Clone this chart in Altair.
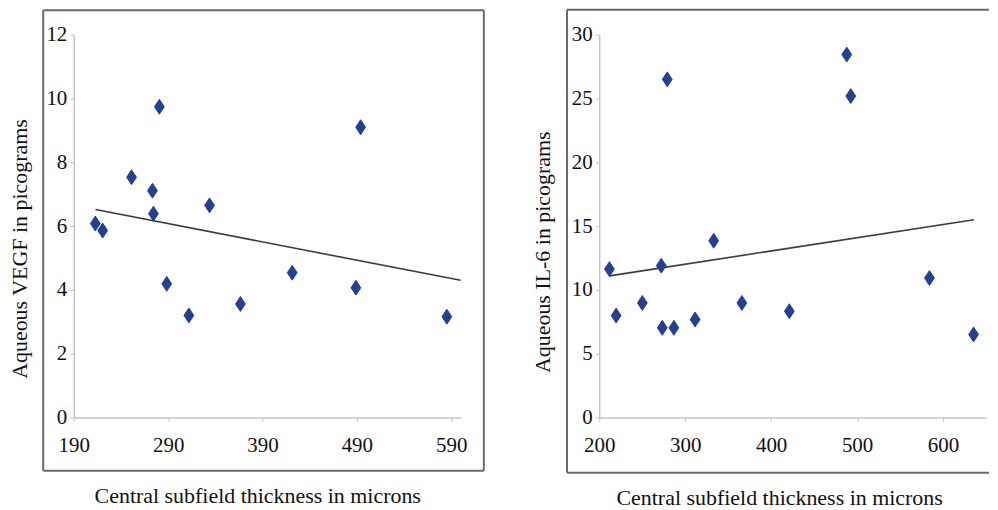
import altair as alt
import pandas as pd

# Left panel: VEGF vs central subfield thickness
vegf_cst = [212.8, 220.6, 251.2, 273.4, 274.4, 280.7, 288.5, 312.0, 333.9, 366.6, 421.5, 489.0, 494.0, 585.4]
vegf_val = [6.08, 5.86, 7.53, 7.11, 6.39, 9.74, 4.19, 3.20, 6.65, 3.56, 4.54, 4.07, 9.10, 3.16]
vegf_trend_x = [213, 600]
vegf_trend_y = [6.52, 4.30]
vegf_xticks = [190, 290, 390, 490, 590]
vegf_yticks = [0, 2, 4, 6, 8, 10, 12]

# Right panel: IL-6 vs central subfield thickness
il6_cst = [211.9, 219.7, 250.2, 272.2, 273.4, 279.2, 286.9, 311.6, 333.2, 366.0, 421.2, 488.0, 492.7, 584.2, 635.5]
il6_val = [11.63, 7.99, 8.98, 11.90, 7.03, 26.50, 7.03, 7.68, 13.85, 8.98, 8.33, 28.44, 25.19, 10.93, 6.51]
il6_trend_x = [212, 636]
il6_trend_y = [11.1, 15.5]
il6_xticks = [200, 300, 400, 500, 600]
il6_yticks = [0, 5, 10, 15, 20, 25, 30]

XTITLE = "Central subfield thickness in microns"
FONT = "Liberation Serif"
W, H = 388, 384
DIAMOND = "M0,-1L0.66,0L0,1L-0.66,0Z"
BOX = "#6b6b6b"


def panel(xs, ys, tx, ty, xdom, ydom, xticks, yticks, ytitle, xtitle_x, xtitle_y, ytitle_x, ytitle_y, box):
    pts = pd.DataFrame({"x": xs, "y": ys})
    trend = pd.DataFrame({"x": tx, "y": ty})
    common = dict(labelFont=FONT, labelFontSize=21, labelColor="#111111", labelFlush=False,
                  labelOverlap=False, titleFont=FONT, titleFontSize=22, titleFontWeight="normal",
                  titleColor="#111111", titleBaseline="middle", titleAlign="center")
    xenc = alt.X("x:Q", scale=alt.Scale(domain=xdom, nice=False, zero=False),
                 axis=alt.Axis(values=xticks, title=XTITLE, titleX=xtitle_x, titleY=xtitle_y,
                               labelPadding=13, **common))
    yenc = alt.Y("y:Q", scale=alt.Scale(domain=ydom, nice=False),
                 axis=alt.Axis(values=yticks, title=ytitle, titleX=ytitle_x, titleY=ytitle_y,
                               labelPadding=3, **common))
    points = alt.Chart(pts).mark_point(shape=DIAMOND, size=225, filled=True, color="#22409a",
                                       stroke="#17306f", strokeWidth=0.8, opacity=1).encode(x=xenc, y=yenc)
    line = alt.Chart(trend).mark_line(color="#3c3c3c", strokeWidth=1.6).encode(x="x:Q", y="y:Q")
    one = pd.DataFrame({"k": [0]})
    rules = []
    for (x1, x2, y1, y2) in box:
        rules.append(alt.Chart(one).mark_rule(color=BOX, strokeWidth=2).encode(
            x=alt.value(x1), x2=alt.value(x2), y=alt.value(y1), y2=alt.value(y2)))
    return alt.layer(*rules, line, points).properties(width=W, height=H)


lx0, lx1, ly0, ly1 = -30.7, 411.3, -24.5, 437.5
left = panel(vegf_cst, vegf_val, vegf_trend_x, vegf_trend_y, [190, 600], [0, 12],
             vegf_xticks, vegf_yticks, "Aqueous VEGF in picograms", 184, 78, -54.7, 214.5,
             [(lx0, lx1, ly0, ly0), (lx0, lx1, ly1, ly1), (lx0, lx0, ly0, ly1), (lx1, lx1, ly0, ly1)])

rx0, rx1, ry0, ry1 = -32.3, 391, -25, 439.4
right = panel(il6_cst, il6_val, il6_trend_x, il6_trend_y, [200, 650], [0, 30],
              il6_xticks, il6_yticks, "Aqueous IL-6 in picograms", 180.5, 80, -57.3, 217.7,
              [(rx0, rx1, ry0, ry0), (rx0, rx1, ry1, ry1), (rx0, rx0, ry0, ry1)])

chart = alt.hconcat(left, right, spacing=45).properties(padding=0).configure(
    font=FONT
).configure_view(
    stroke=None
).configure_axis(
    grid=False,
    domainColor="#c4c4c4",
    domainWidth=1.5,
    tickColor="#c4c4c4",
    tickSize=4,
)

chart.save("out.html", embed_options={"renderer": "svg", "actions": False})
